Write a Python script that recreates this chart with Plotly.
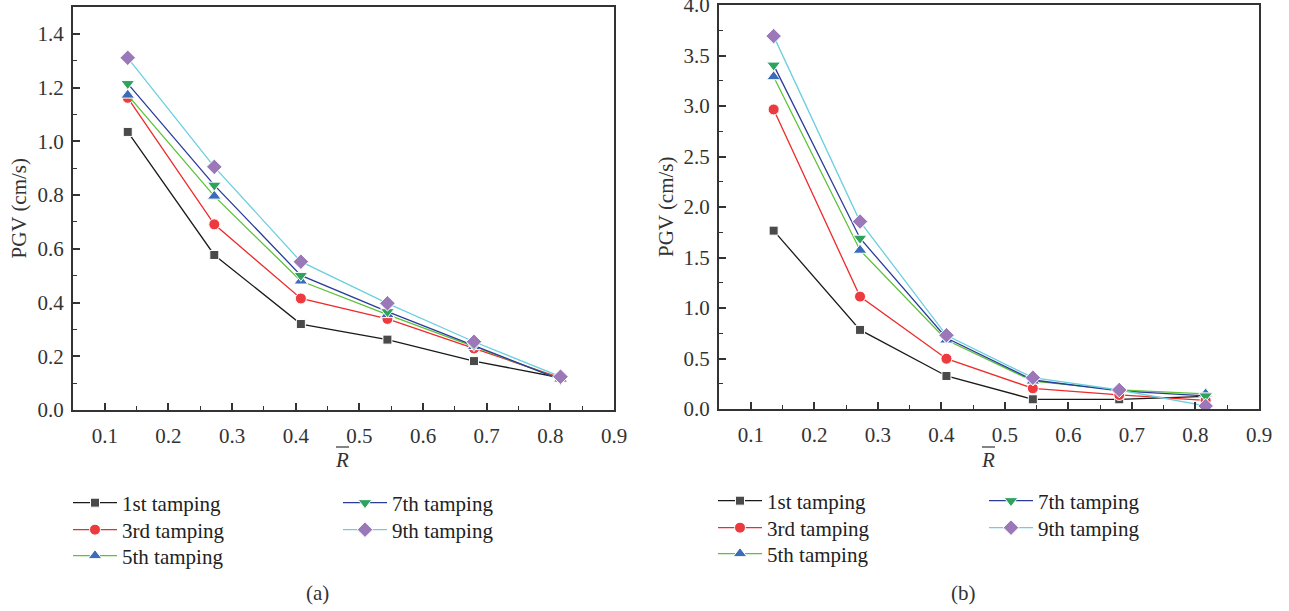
import plotly.graph_objects as go

W, H = 1289, 611

# Normalised distance R̄ (shared by both panels)
r_bar = [0.136, 0.272, 0.408, 0.544, 0.680, 0.816]

series_names = ["1st tamping", "3rd tamping", "5th tamping", "7th tamping", "9th tamping"]

# Panel (a): PGV (cm/s)
pgv_a_1st = [1.035, 0.577, 0.320, 0.262, 0.182, 0.120]
pgv_a_3rd = [1.162, 0.691, 0.415, 0.339, 0.229, 0.120]
pgv_a_5th = [1.172, 0.796, 0.480, 0.355, 0.236, 0.115]
pgv_a_7th = [1.215, 0.837, 0.501, 0.366, 0.240, 0.113]
pgv_a_9th = [1.311, 0.905, 0.552, 0.397, 0.254, 0.124]

# Panel (b): PGV (cm/s)
pgv_b_1st = [1.766, 0.783, 0.327, 0.096, 0.096, 0.125]
pgv_b_3rd = [2.966, 1.113, 0.498, 0.205, 0.139, 0.085]
pgv_b_5th = [3.290, 1.572, 0.683, 0.277, 0.190, 0.150]
pgv_b_7th = [3.405, 1.691, 0.703, 0.287, 0.180, 0.130]
pgv_b_9th = [3.692, 1.856, 0.730, 0.310, 0.188, 0.030]

panel_a = [pgv_a_1st, pgv_a_3rd, pgv_a_5th, pgv_a_7th, pgv_a_9th]
panel_b = [pgv_b_1st, pgv_b_3rd, pgv_b_5th, pgv_b_7th, pgv_b_9th]

line_colors = ["#1a1a1a", "#ee2a2a", "#5cc236", "#2b3b9a", "#6ccfe0"]
marker_colors = ["#4a4a4a", "#ec3b3f", "#3a6cb8", "#2ea35e", "#9b78b8"]
symbols = ["square", "circle", "triangle-up", "triangle-down", "diamond"]
sizes = [9, 11, 12, 12, 12]

FONT = "Liberation Serif"
FS = 21
fig = go.Figure()


def px_x(p):
    return p / W


def px_y(p):
    return 1 - p / H


# Legend entry anchors (pixels): column x for each series, row y per panel
legend_cols_a = [68, 68, 68, 338, 338]
legend_rows_a = [503, 530, 556, 503, 530]
legend_cols_b = [713, 713, 713, 984, 984]
legend_rows_b = [501, 528, 554, 501, 528]

legend_layout = {}
panels = [
    (panel_a, "x", "y", legend_cols_a, legend_rows_a, 0),
    (panel_b, "x2", "y2", legend_cols_b, legend_rows_b, 5),
]
for data, xa, ya, cols, rows, offset in panels:
    for i, (name, vals) in enumerate(zip(series_names, data)):
        k = offset + i + 1
        lg = "legend" if k == 1 else f"legend{k}"
        fig.add_trace(go.Scatter(
            x=r_bar, y=vals, name=name, mode="lines+markers",
            xaxis=xa, yaxis=ya, legend=lg,
            line=dict(color=line_colors[i], width=1.3),
            marker=dict(symbol=symbols[i], size=sizes[i], color=marker_colors[i],
                        line=dict(color="white", width=1)),
        ))
        legend_layout[lg] = dict(
            x=px_x(cols[i]), y=px_y(rows[i]), xanchor="left", yanchor="middle",
            bgcolor="rgba(0,0,0,0)", borderwidth=0, itemwidth=44,
            font=dict(family=FONT, size=FS, color="#222222"),
        )

axis_common = dict(
    showline=True, linecolor="#333333", linewidth=2, mirror=True,
    ticks="inside", ticklen=7, tickwidth=1.5, tickcolor="#333333",
    showgrid=False, zeroline=False, ticklabeloverflow="allow", automargin=False,
    tickfont=dict(family=FONT, size=FS, color="#333333"),
)

xaxis_common = dict(axis_common, range=[0.05, 0.9], dtick=0.1, tick0=0.1,
                    tickformat=".1f", ticklabelstandoff=6,
                    minor=dict(ticks="inside", ticklen=4, dtick=0.05, tick0=0.05,
                               tickcolor="#333333", tickwidth=1.2))

fig.update_layout(
    width=W, height=H,
    margin=dict(l=0, r=0, t=0, b=0, autoexpand=False),
    paper_bgcolor="white", plot_bgcolor="white",
    font=dict(family=FONT, size=FS, color="#333333"),
    xaxis=dict(xaxis_common, domain=[px_x(73), px_x(614)], anchor="y"),
    yaxis=dict(axis_common, domain=[px_y(410), px_y(7)], anchor="x",
               range=[0, 1.5], dtick=0.2, tickformat=".1f", ticklabelstandoff=3,
               minor=dict(ticks="inside", ticklen=4, dtick=0.1,
                          tickcolor="#333333", tickwidth=1.2)),
    xaxis2=dict(xaxis_common, domain=[px_x(719), px_x(1259)], anchor="y2"),
    yaxis2=dict(axis_common, domain=[px_y(409), px_y(5)], anchor="x2",
                range=[0, 4.0001], dtick=0.5, tickformat=".1f", ticklabelstandoff=3,
                minor=dict(ticks="inside", ticklen=4, dtick=0.25,
                           tickcolor="#333333", tickwidth=1.2)),
    showlegend=True,
    **legend_layout,
)

# Axis titles and panel captions
annotations = []
y_titles = [(19, (7 + 410) / 2), (666, (5 + 409) / 2)]
for xp, yp in y_titles:
    annotations.append(dict(
        x=px_x(xp), y=px_y(yp), xref="paper", yref="paper",
        text="PGV (cm/s)", textangle=-90, showarrow=False,
        font=dict(family=FONT, size=FS, color="#333333"),
        xanchor="center", yanchor="middle"))

title_x = [342, 988]
for xp in title_x:
    annotations.append(dict(
        x=px_x(xp), y=px_y(460), xref="paper", yref="paper",
        text="<i>R</i>", showarrow=False,
        font=dict(family=FONT, size=FS, color="#333333"),
        xanchor="center", yanchor="middle"))

for xp, cap in [(317, "(a)"), (963, "(b)")]:
    annotations.append(dict(
        x=px_x(xp), y=px_y(593), xref="paper", yref="paper",
        text=cap, showarrow=False,
        font=dict(family=FONT, size=FS, color="#333333"),
        xanchor="center", yanchor="middle"))

fig.update_layout(annotations=annotations)

# Overline above R̄ in each x-axis title
for xp in title_x:
    fig.add_shape(type="line", xref="paper", yref="paper",
                  x0=px_x(xp - 6), x1=px_x(xp + 7), y0=px_y(447), y1=px_y(447),
                  line=dict(color="#333333", width=1.2))

fig.write_html("out.html")
